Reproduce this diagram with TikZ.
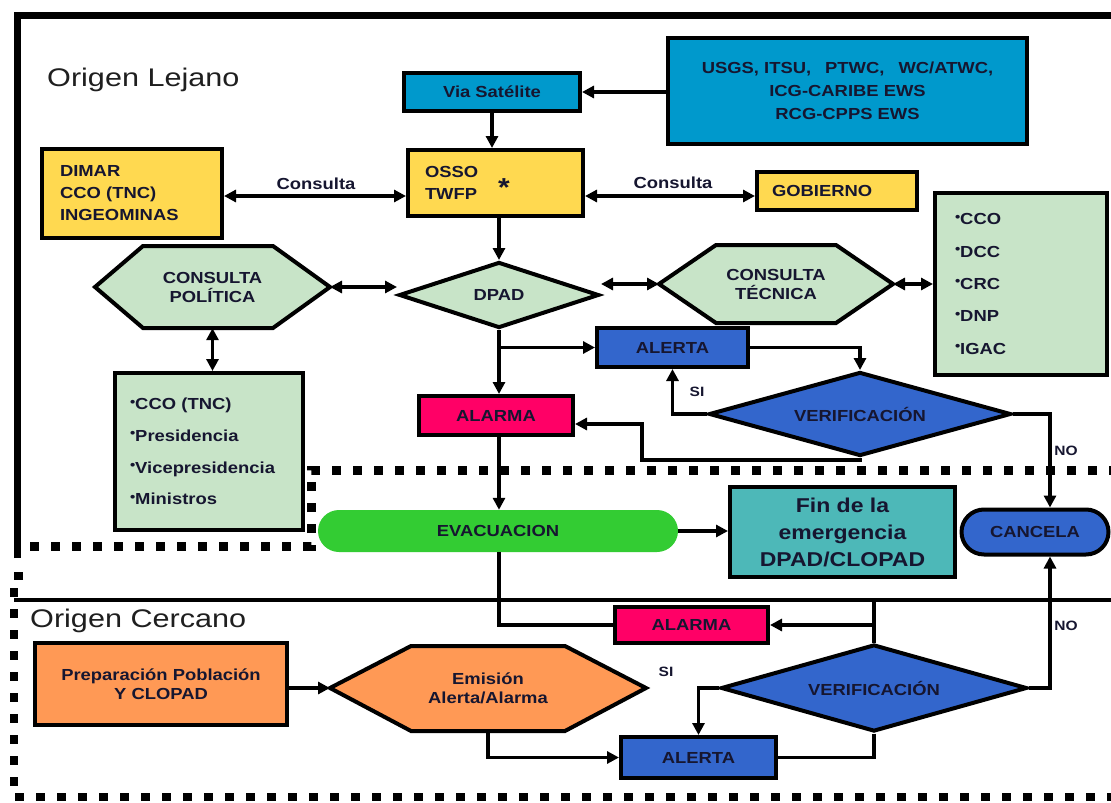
\documentclass[tikz,border=0pt]{standalone}
\usepackage{fontspec}
\setmainfont[FakeStretch=1.15]{Liberation Sans}
\newfontfamily\titlefont[FakeStretch=1.2]{Liberation Sans}
\usetikzlibrary{shapes.geometric,shapes.misc,arrows.meta,calc}
\definecolor{cblueA}{RGB}{0,153,204}
\definecolor{cyel}{RGB}{255,217,80}
\definecolor{cgrn}{RGB}{200,228,200}
\definecolor{cblueB}{RGB}{51,102,204}
\definecolor{cpink}{RGB}{255,0,102}
\definecolor{cevac}{RGB}{51,204,51}
\definecolor{cteal}{RGB}{77,184,184}
\definecolor{corange}{RGB}{255,153,85}
\definecolor{ctxt}{RGB}{22,22,48}
\newcommand\bul{\raisebox{0.22em}{\fontsize{13}{13}\selectfont •}}
\begin{document}
\begin{tikzpicture}[x=1pt,y=-1pt,
  box/.style={draw=black, line width=4pt, inner sep=0pt, align=center, text=ctxt, font=\bfseries\fontsize{16}{19}\selectfont},
  lst/.style={box, fill=cgrn, align=left},
  shp/.style={draw=black, line width=4pt, line join=miter},
  lbl/.style={inner sep=0pt, text=ctxt, align=center, font=\bfseries\fontsize{16}{19}\selectfont},
  sml/.style={inner sep=0pt, text=ctxt, font=\bfseries\fontsize{13.5}{13.5}\selectfont},
  ttl/.style={inner sep=0pt, anchor=west, text=black!88, font=\titlefont\fontsize{25.5}{30}\selectfont},
  arr/.style={line width=3.5pt, -{Triangle[length=12pt,width=12pt]}},
  dbl/.style={line width=3.5pt, {Triangle[length=12pt,width=12pt]}-{Triangle[length=12pt,width=12pt]}},
  ln/.style={line width=3.5pt},
  frm/.style={line width=7pt},
  dsh/.style={line width=9pt, dash pattern=on 9pt off 12pt},
]
\useasboundingbox[fill=white] (0,0) rectangle (1111,803);

% frame lines
\draw[frm] (17,558) -- (17,15) -- (1111,15);
\draw[dsh] (30,546) -- (311,546) -- (311,470) -- (1111,470);
\draw[line width=3.5pt] (14,600) -- (1111,600);
\draw[line width=8pt, dash pattern=on 9pt off 12pt] (23,576) -- (14,576) -- (14,797) -- (1111,797);
\coordinate (sep) at (0,600);
\coordinate (nx) at (1050,0);
\coordinate (ya) at (0,196);

% titles
\node[ttl] (t1) at (47,80) {Origen Lejano};
\node[ttl] (t2) at (30,621) {Origen Cercano};

% top nodes
\node[box, fill=cblueA, minimum width=176pt, minimum height=38pt] (via) at (492,92) {Via Satélite};
\node[box, fill=cblueA, minimum width=359pt, minimum height=106pt, font=\bfseries\fontsize{16}{23}\selectfont] (usgs) at (847.5,91) {USGS, ITSU,\hspace{14pt}PTWC,\hspace{14pt}WC/ATWC,\\ICG-CARIBE EWS\\RCG-CPPS EWS};
\node[box, fill=cyel, minimum width=180pt, minimum height=89pt, text width=144pt, align=left, font=\bfseries\fontsize{16}{22}\selectfont] (dimar) at (132,193.5) {DIMAR\\CCO (TNC)\\INGEOMINAS};
\node[box, fill=cyel, minimum width=175pt, minimum height=66pt, text width=141pt, align=left, font=\bfseries\fontsize{16}{22}\selectfont] (osso) at (495.5,183) {OSSO\\TWFP};
\node[lbl, font=\bfseries\fontsize{26}{26}\selectfont] (ast) at (504,188) {*};
\node[box, fill=cyel, minimum width=160pt, minimum height=38pt, text width=130pt, align=left] (gob) at (837,191) {GOBIERNO};
\node[lbl] (c1) at (316,184) {Consulta};
\node[lbl] (c2) at (673,183) {Consulta};

% consulta politica hexagon
\draw[shp, fill=cgrn] (95,287) coordinate (cpolW) -- (143,246) -- (273,246) -- (330,287) coordinate (cpolE) -- (273,328) -- (143,328) -- cycle;
\node[lbl, minimum width=235pt, minimum height=82pt] (cpol) at (212.5,287) {CONSULTA\\POLÍTICA};
% DPAD
\node[box, diamond, aspect=3, fill=cgrn, minimum width=200pt, minimum height=66pt] (dpad) at (499,295) {DPAD};
% consulta tecnica hexagon
\draw[shp, fill=cgrn] (659,284) coordinate (ctecW) -- (716,245) -- (836,245) -- (893,284) coordinate (ctecE) -- (836,323) -- (716,323) -- cycle;
\node[lbl, minimum width=234pt, minimum height=78pt] (ctec) at (776,284) {CONSULTA\\TÉCNICA};

\node[lst, minimum width=172pt, minimum height=182pt, text width=132pt, font=\bfseries\fontsize{16}{32.3}\selectfont] (rlist) at (1021,284) {\bul CCO\\\bul DCC\\\bul CRC\\\bul DNP\\\bul IGAC};
\node[lst, minimum width=188pt, minimum height=157pt, text width=158pt, font=\bfseries\fontsize{16}{31.7}\selectfont] (llist) at (209,451.5) {\bul CCO (TNC)\\\bul Presidencia\\\bul Vicepresidencia\\\bul Ministros};

\node[box, fill=cblueB, minimum width=151pt, minimum height=39pt] (alerta1) at (672.5,347.5) {ALERTA};
\node[box, fill=cpink, minimum width=154pt, minimum height=39pt] (alarma1) at (496,415.5) {ALARMA};
\node[box, diamond, aspect=3.6, fill=cblueB, minimum width=302pt, minimum height=84pt] (verif1) at (860,414) {VERIFICACIÓN};

\node[rounded rectangle, fill=cevac, minimum width=360pt, minimum height=42pt, inner sep=0pt, text=ctxt, font=\bfseries\fontsize{16}{19}\selectfont] (evac) at (498,531) {EVACUACION};
\node[box, fill=cteal, minimum width=225pt, minimum height=90pt, font=\bfseries\fontsize{20}{27}\selectfont] (fin) at (842.5,532) {Fin de la\\emergencia\\DPAD/CLOPAD};
\node[box, rounded rectangle, fill=cblueB, minimum width=147pt, minimum height=45pt] (cancela) at (1035,532) {CANCELA};

% bottom nodes
\node[box, fill=cpink, minimum width=153pt, minimum height=36pt] (alarma2) at (691.5,625) {ALARMA};
\node[box, fill=corange, minimum width=252pt, minimum height=82pt] (prep) at (161,684) {Preparación Población\\Y CLOPAD};
\draw[shp, fill=corange] (330,688) coordinate (emisW) -- (411,646) -- (565,646) -- (646,688) coordinate (emisE) -- (565,731) -- (411,731) -- cycle;
\node[lbl, minimum width=316pt, minimum height=85pt] (emis) at (488,688.5) {Emisión\\Alerta/Alarma};
\node[box, diamond, aspect=3.5, fill=cblueB, minimum width=306pt, minimum height=87pt] (verif2) at (874,688) {VERIFICACIÓN};
\node[box, fill=cblueB, minimum width=155pt, minimum height=41pt] (alerta2) at (698.5,757.5) {ALERTA};

% connectors top
\draw[arr] (usgs.west |- via.east) -- (via.east);
\draw[arr] (via.south) -- (via.south |- osso.north);
\draw[dbl] (dimar.east |- ya) -- (osso.west |- ya);
\draw[dbl] (osso.east |- ya) -- (gob.west |- ya);
\draw[arr] (osso.south -| dpad.north) -- (dpad.north);
\draw[dbl] (cpolE) -- (cpolE -| dpad.west);
\draw[dbl] (dpad.east |- ctecW) -- (ctecW);
\draw[dbl] (ctecE) -- (rlist.west |- ctecE);
\draw[dbl] (cpol.south) -- (cpol.south |- llist.north);
\draw[arr] (dpad.south) -- (dpad.south |- alarma1.north);
\draw[arr] (dpad.south |- alerta1.west) -- (alerta1.west);
\draw[arr] (alerta1.east) -| (verif1.north);
\draw[arr] (verif1.west) -| (alerta1.south);
\node[sml] (si1) at (697,392) {SI};
\coordinate (b1) at (642,460);
\coordinate (b2) at (642,424);
\draw[arr] (verif1.south) |- (b1) -- (b2) -- (alarma1.east |- b2);
\draw[arr] (verif1.east) -- (verif1.east -| nx) -- (nx |- cancela.north);
\node[sml] (no1) at (1066,451) {NO};
\draw[arr] (dpad.south |- alarma1.south) -- (dpad.south |- evac.north);
\draw[arr] (evac.east) -- (evac.east -| fin.west);

% connectors bottom
\draw[ln] (dpad.south |- evac.south) |- (alarma2.west);
\draw[arr] (verif2.north) |- (alarma2.east);
\draw[ln] (verif2.north |- alarma2.east) -- (verif2.north |- sep);
\draw[arr] (prep.east |- emisW) -- (emisW);
\draw[arr] (emis.south) |- (alerta2.west);
\draw[ln] (verif2.south) |- (alerta2.east);
\draw[arr] (verif2.west) -| (alerta2.north);
\node[sml] (si2) at (666,672) {SI};
\draw[arr] (verif2.east) -- (verif2.east -| nx) -- (nx |- cancela.south);
\node[sml] (no2) at (1066,626) {NO};
\end{tikzpicture}
\end{document}
